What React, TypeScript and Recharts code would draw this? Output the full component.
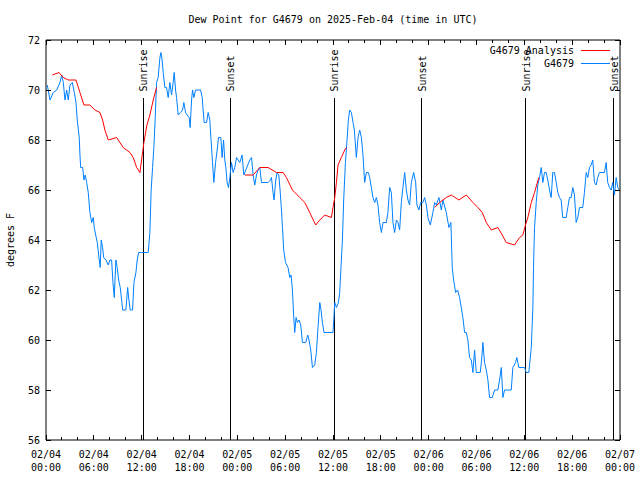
import React from 'react';
import { LineChart, Line, XAxis, YAxis, ReferenceLine } from 'recharts';

const FONT = '"DejaVu Sans Mono", monospace';

// hours since 2025-02-04 00:00 UTC, station observations
const obsHours = [
  0.16, 0.5, 0.91, 1.34, 1.75, 1.97, 2.17, 2.38, 2.59, 2.79, 3.01, 3.3, 3.55, 3.76, 3.92, 4.17, 4.26, 4.35, 4.6, 4.76,
  4.92, 5.1, 5.3, 5.51, 5.73, 5.93, 6.05, 6.23, 6.43, 6.68, 6.8, 6.93, 7.1, 7.23, 7.52, 7.81, 8.02, 8.23, 8.4, 8.56,
  8.77, 8.93, 9.11, 9.31, 9.52, 9.61, 10.02, 10.24, 10.4, 10.56, 10.86, 11.03, 11.28, 11.44, 11.62, 11.99, 12.82, 13.03, 13.19, 13.37,
  13.53, 13.7, 13.87, 14.07, 14.29, 14.41, 14.57, 14.7, 14.91, 15.12, 15.33, 15.54, 15.75, 15.95, 16.08, 16.25, 16.38, 16.58, 16.88, 17.13,
  17.29, 17.51, 17.71, 17.96, 18.08, 18.26, 18.38, 18.55, 18.76, 19.39, 19.59, 19.71, 19.84, 20.14, 20.34, 20.55, 20.68, 20.89, 21.05, 21.27,
  21.47, 21.64, 21.93, 22.09, 22.27, 22.43, 22.56, 22.72, 22.89, 23.06, 23.27, 23.47, 23.68, 23.9, 24.31, 24.6, 24.81, 25.06, 25.31, 25.56,
  25.78, 25.98, 26.19, 26.4, 26.6, 26.82, 27.03, 27.86, 28.16, 28.28, 28.48, 28.61, 28.82, 28.98, 29.2, 29.36, 29.54, 29.66, 29.82, 30.04,
  30.36, 30.58, 30.74, 30.91, 31.08, 31.2, 31.37, 31.54, 31.74, 31.95, 32.17, 32.58, 32.83, 32.99, 33.21, 33.42, 33.71, 33.92, 34.12, 34.34,
  34.5, 34.67, 34.87, 36.0, 36.22, 36.43, 36.68, 36.84, 37.0, 37.18, 37.34, 37.56, 37.76, 37.93, 38.1, 38.31, 38.51, 38.68, 38.93, 39.14,
  39.35, 39.56, 39.76, 39.97, 40.19, 40.44, 40.6, 40.81, 41.01, 41.23, 41.44, 41.64, 41.85, 42.07, 42.27, 42.69, 42.89, 43.11, 43.32, 43.52,
  43.73, 43.95, 44.15, 44.36, 44.57, 44.77, 44.99, 45.2, 45.4, 45.61, 45.83, 46.12, 46.37, 46.53, 46.78, 46.99, 47.28, 47.49, 47.71, 47.91,
  48.21, 48.53, 48.75, 48.96, 49.29, 49.59, 49.79, 50.21, 50.54, 50.79, 50.96, 51.13, 51.38, 51.63, 51.88, 52.09, 52.29, 52.51, 52.72, 52.92,
  53.13, 53.35, 53.55, 53.76, 53.97, 54.47, 54.64, 54.8, 55.01, 55.23, 55.43, 55.64, 55.98, 56.27, 56.68, 56.89, 57.11, 57.31, 57.52, 58.36,
  58.56, 58.9, 59.06, 59.31, 60.03, 60.24, 60.56, 60.87, 61.07, 61.15, 61.28, 61.49, 61.69, 61.9, 62.12, 62.32, 62.53, 62.74, 62.94, 63.16,
  63.37, 63.57, 63.78, 64.0, 64.2, 64.41, 64.62, 64.82, 65.25, 65.45, 65.66, 65.88, 66.08, 66.29, 66.5, 66.7, 66.92, 67.33, 67.54, 67.76,
  67.96, 68.17, 68.38, 68.58, 68.8, 69.01, 69.21, 69.42, 70.05, 70.26, 70.46, 70.68, 70.89, 71.09, 71.3, 71.52, 71.72, 71.93,
];
const obsDewPoint = [
  70.2, 69.6, 69.9, 70.0, 70.3, 70.6, 70.3, 69.6, 70.0, 69.6, 70.2, 70.3, 69.9, 69.5, 68.8, 68.1, 67.4, 66.9, 66.9, 66.4,
  66.6, 66.3, 65.9, 65.1, 64.7, 64.9, 64.5, 64.2, 63.9, 63.2, 62.9, 64.0, 63.7, 63.3, 63.2, 63.0, 63.2, 63.2, 62.3, 61.7,
  63.2, 62.9, 62.4, 62.1, 61.5, 61.2, 61.2, 62.1, 61.6, 61.2, 61.2, 62.3, 62.7, 63.2, 63.5, 63.5, 63.5, 64.3, 66.0, 66.9,
  67.7, 68.9, 70.3, 70.5, 71.3, 71.5, 71.2, 70.7, 70.1, 70.1, 69.7, 70.3, 69.8, 70.3, 70.7, 70.0, 69.7, 69.0, 69.1, 69.2,
  69.5, 69.1, 69.0, 68.9, 68.5, 69.6, 70.0, 69.7, 70.0, 70.0, 69.7, 69.2, 68.7, 68.7, 69.1, 68.8, 68.1, 67.1, 66.3, 67.1,
  67.6, 68.1, 68.1, 67.3, 68.0, 67.2, 66.9, 66.3, 66.1, 66.5, 67.1, 66.7, 66.9, 67.3, 67.1, 67.4, 66.6, 66.8, 67.0, 67.2,
  67.3, 66.6, 66.2, 66.6, 66.8, 66.9, 66.3, 66.3, 66.4, 66.5, 65.9, 65.6, 66.4, 66.7, 66.6, 66.0, 65.2, 64.5, 63.6, 63.1,
  62.9, 62.5, 62.6, 62.0, 60.9, 60.3, 60.9, 60.7, 60.8, 60.6, 59.9, 59.9, 60.2, 60.0, 59.6, 58.9, 59.0, 59.5, 60.5, 61.5,
  61.2, 60.7, 60.3, 60.3, 61.5, 61.3, 61.5, 61.9, 62.9, 64.0, 65.6, 67.1, 68.0, 68.8, 69.2, 69.1, 68.7, 68.4, 67.3, 68.1,
  68.4, 68.1, 67.4, 66.3, 66.7, 66.7, 66.5, 66.1, 65.7, 65.5, 65.7, 65.4, 64.7, 64.3, 64.7, 64.7, 65.1, 66.1, 65.9, 64.7,
  64.3, 64.8, 64.7, 64.4, 65.5, 66.1, 66.7, 66.0, 65.6, 65.4, 66.3, 66.7, 66.3, 65.4, 65.2, 65.5, 65.5, 65.7, 65.4, 64.9,
  64.6, 65.1, 65.5, 65.4, 65.7, 65.2, 65.6, 65.1, 64.5, 64.7, 62.9, 62.4, 61.9, 62.0, 61.7, 61.3, 60.9, 60.3, 60.3, 60.0,
  59.3, 59.2, 58.7, 59.6, 58.7, 58.7, 59.2, 59.9, 59.1, 58.8, 58.4, 57.7, 57.7, 58.0, 58.0, 58.4, 58.9, 57.7, 58.0, 58.0,
  58.9, 59.1, 59.3, 58.9, 58.9, 58.7, 58.7, 59.7, 61.3, 62.9, 64.5, 65.5, 66.2, 66.5, 66.9, 66.3, 66.7, 66.7, 66.4, 66.0,
  65.7, 66.7, 66.7, 66.3, 65.9, 65.7, 65.6, 64.9, 64.9, 65.3, 65.7, 65.7, 66.1, 65.8, 64.7, 64.9, 65.3, 65.3, 65.9, 66.7,
  66.5, 66.9, 67.0, 67.2, 66.3, 66.2, 66.5, 66.7, 66.7, 67.1, 66.3, 66.1, 66.0, 66.3, 65.8, 66.5, 66.1, 66.0,
];

// analysis, night-time only (null breaks the line)
const anaHours = [
  0.79, 1.63, 2.17, 2.79, 3.76, 4.26, 4.76, 5.51, 6.14, 6.77, 7.1, 7.39, 7.81, 8.86, 9.69, 10.53, 10.94, 11.37, 11.78, 12.07,
  12.28, 12.66, 13.03, 13.45, 13.87, 18,
  24.94, 25.98, 26.82, 27.86, 28.91, 29.74, 30.16, 30.91, 31.83, 32.46, 33.08, 33.83, 34.34, 34.96, 35.8, 36.0, 36.22, 36.43, 36.63, 37.05,
  37.47, 37.68, 42,
  48.75, 49.37, 50.21, 50.84, 51.79, 52.72, 53.55, 54.17, 54.72, 55.23, 55.85, 56.68, 57.23, 57.73, 58.77, 59.4, 59.81, 60.15, 60.44, 60.87,
  61.28, 61.82,
];
const anaDewPoint = [
  70.6, 70.7, 70.5, 70.4, 70.4, 69.9, 69.4, 69.4, 69.2, 69.1, 68.8, 68.4, 68.0, 68.1, 67.7, 67.5, 67.3, 66.9, 66.7, 67.4,
  67.9, 68.6, 69.0, 69.6, 70.1, null,
  66.6, 66.6, 66.9, 66.9, 66.7, 66.7, 66.5, 66.0, 65.7, 65.5, 65.1, 64.6, 64.8, 65.0, 64.9, 65.3, 65.7, 66.3, 67.0, 67.3,
  67.6, 67.7, null,
  65.3, 65.5, 65.7, 65.8, 65.6, 65.8, 65.5, 65.3, 65.1, 64.7, 64.4, 64.5, 64.2, 63.9, 63.8, 64.1, 64.2, 64.6, 64.9, 65.5,
  65.9, 66.5,
];

const sunHours = [12.19, 23.09, 36.13, 47.15, 60.19, 71.21];
const sunLabels = ['Sunrise', 'Sunset', 'Sunrise', 'Sunset', 'Sunrise', 'Sunset'];

const xTicks = [0, 2, 4, 6, 8, 10, 12, 14, 16, 18, 20, 22, 24, 26, 28, 30, 32, 34, 36, 38, 40, 42, 44, 46, 48, 50, 52, 54, 56, 58, 60, 62, 64, 66, 68, 70, 72];
const majorHours = [0, 6, 12, 18, 24, 30, 36, 42, 48, 54, 60, 66, 72];
const majorDates = ['02/04', '02/04', '02/04', '02/04', '02/05', '02/05', '02/05', '02/05', '02/06', '02/06', '02/06', '02/06', '02/07'];
const majorTimes = ['00:00', '06:00', '12:00', '18:00', '00:00', '06:00', '12:00', '18:00', '00:00', '06:00', '12:00', '18:00', '00:00'];
const yTicks = [56, 58, 60, 62, 64, 66, 68, 70, 72];

const obsData = obsHours.map((t, i) => ({ t, v: obsDewPoint[i] }));
const anaData = anaHours.map((t, i) => ({ t, v: anaDewPoint[i] }));

const txt = { fontFamily: FONT, fontSize: 10, fill: '#000' };

const BottomTick = (props: any) => {
  const { x, y, payload } = props;
  const idx = majorHours.indexOf(payload.value);
  const major = idx >= 0;
  return (
    <g>
      <line x1={x} x2={x} y1={y} y2={y - (major ? 5 : 3)} stroke="#000" shapeRendering="crispEdges" />
      {major && (
        <text x={x} y={y + 18} textAnchor="middle" {...txt}>
          <tspan x={x}>{majorDates[idx]}</tspan>
          <tspan x={x} dy={13}>{majorTimes[idx]}</tspan>
        </text>
      )}
    </g>
  );
};

const TopTick = (props: any) => {
  const { x, y, payload } = props;
  const major = majorHours.includes(payload.value);
  return <line x1={x} x2={x} y1={y} y2={y + (major ? 5 : 3)} stroke="#000" shapeRendering="crispEdges" />;
};

const LeftTick = (props: any) => {
  const { x, y, payload } = props;
  return (
    <g>
      <line x1={x} x2={x + 5} y1={y} y2={y} stroke="#000" shapeRendering="crispEdges" />
      <text x={x - 6} y={y + 4} textAnchor="end" {...txt}>{payload.value}</text>
    </g>
  );
};

const RightTick = (props: any) => {
  const { x, y } = props;
  return <line x1={x} x2={x - 5} y1={y} y2={y} stroke="#000" shapeRendering="crispEdges" />;
};

const sunLabel = (text: string) => (props: any) => {
  const vb = props.viewBox || {};
  const x = vb.x + 4;
  const y = vb.y - 6;
  return (
    <text transform={`translate(${x},${y}) rotate(-90)`} {...txt}>
      {text}
    </text>
  );
};

export default function App() {
  return (
    <div style={{ position: 'absolute', left: 0, top: 0, width: 640, height: 480, background: '#fff' }}>
      <LineChart width={640} height={480} margin={{ top: 0, right: 0, bottom: 0, left: 0 }}>
        <XAxis
          dataKey="t"
          type="number"
          domain={[0, 72]}
          allowDataOverflow
          ticks={xTicks}
          interval={0}
          height={40}
          tickSize={0}
          tickMargin={0}
          tickLine={false}
          tick={BottomTick}
          axisLine={{ stroke: '#000' }}
        />
        <XAxis
          xAxisId="top"
          orientation="top"
          dataKey="t"
          type="number"
          domain={[0, 72]}
          allowDataOverflow
          ticks={xTicks}
          interval={0}
          height={40}
          tickSize={0}
          tickMargin={0}
          tickLine={false}
          tick={TopTick}
          axisLine={{ stroke: '#000' }}
        />
        <YAxis
          type="number"
          domain={[56, 72]}
          allowDataOverflow
          ticks={yTicks}
          interval={0}
          width={46}
          tickSize={0}
          tickMargin={0}
          tickLine={false}
          tick={LeftTick}
          axisLine={{ stroke: '#000' }}
        />
        <YAxis
          yAxisId="right"
          orientation="right"
          type="number"
          domain={[56, 72]}
          allowDataOverflow
          ticks={yTicks}
          interval={0}
          width={20}
          tickSize={0}
          tickMargin={0}
          tickLine={false}
          tick={RightTick}
          axisLine={{ stroke: '#000' }}
        />
        {sunHours.map((h, i) => (
          <ReferenceLine
            key={i}
            segment={[{ x: h, y: 56 }, { x: h, y: 69.7 }]}
            stroke="#000"
            strokeWidth={1}
            shapeRendering="crispEdges"
            label={sunLabel(sunLabels[i])}
          />
        ))}
        <Line
          data={obsData}
          dataKey="v"
          type="linear"
          stroke="#0080ff"
          strokeWidth={1}
          dot={false}
          activeDot={false}
          isAnimationActive={false}
        />
        <Line
          data={anaData}
          dataKey="v"
          type="linear"
          stroke="#ff0000"
          strokeWidth={1}
          dot={false}
          activeDot={false}
          connectNulls={false}
          isAnimationActive={false}
        />
      </LineChart>
      <svg width={640} height={480} style={{ position: 'absolute', left: 0, top: 0, pointerEvents: 'none' }}>
        <text x={333} y={23} textAnchor="middle" {...txt}>
          Dew Point for G4679 on 2025-Feb-04 (time in UTC)
        </text>
        <text transform="translate(14,240) rotate(-90)" textAnchor="middle" {...txt}>
          degrees F
        </text>
        <text x={574} y={54} textAnchor="end" {...txt}>G4679 Analysis</text>
        <line x1={581} x2={610} y1={50.5} y2={50.5} stroke="#ff0000" />
        <text x={574} y={67} textAnchor="end" {...txt}>G4679</text>
        <line x1={581} x2={610} y1={63.5} y2={63.5} stroke="#0080ff" />
      </svg>
    </div>
  );
}
